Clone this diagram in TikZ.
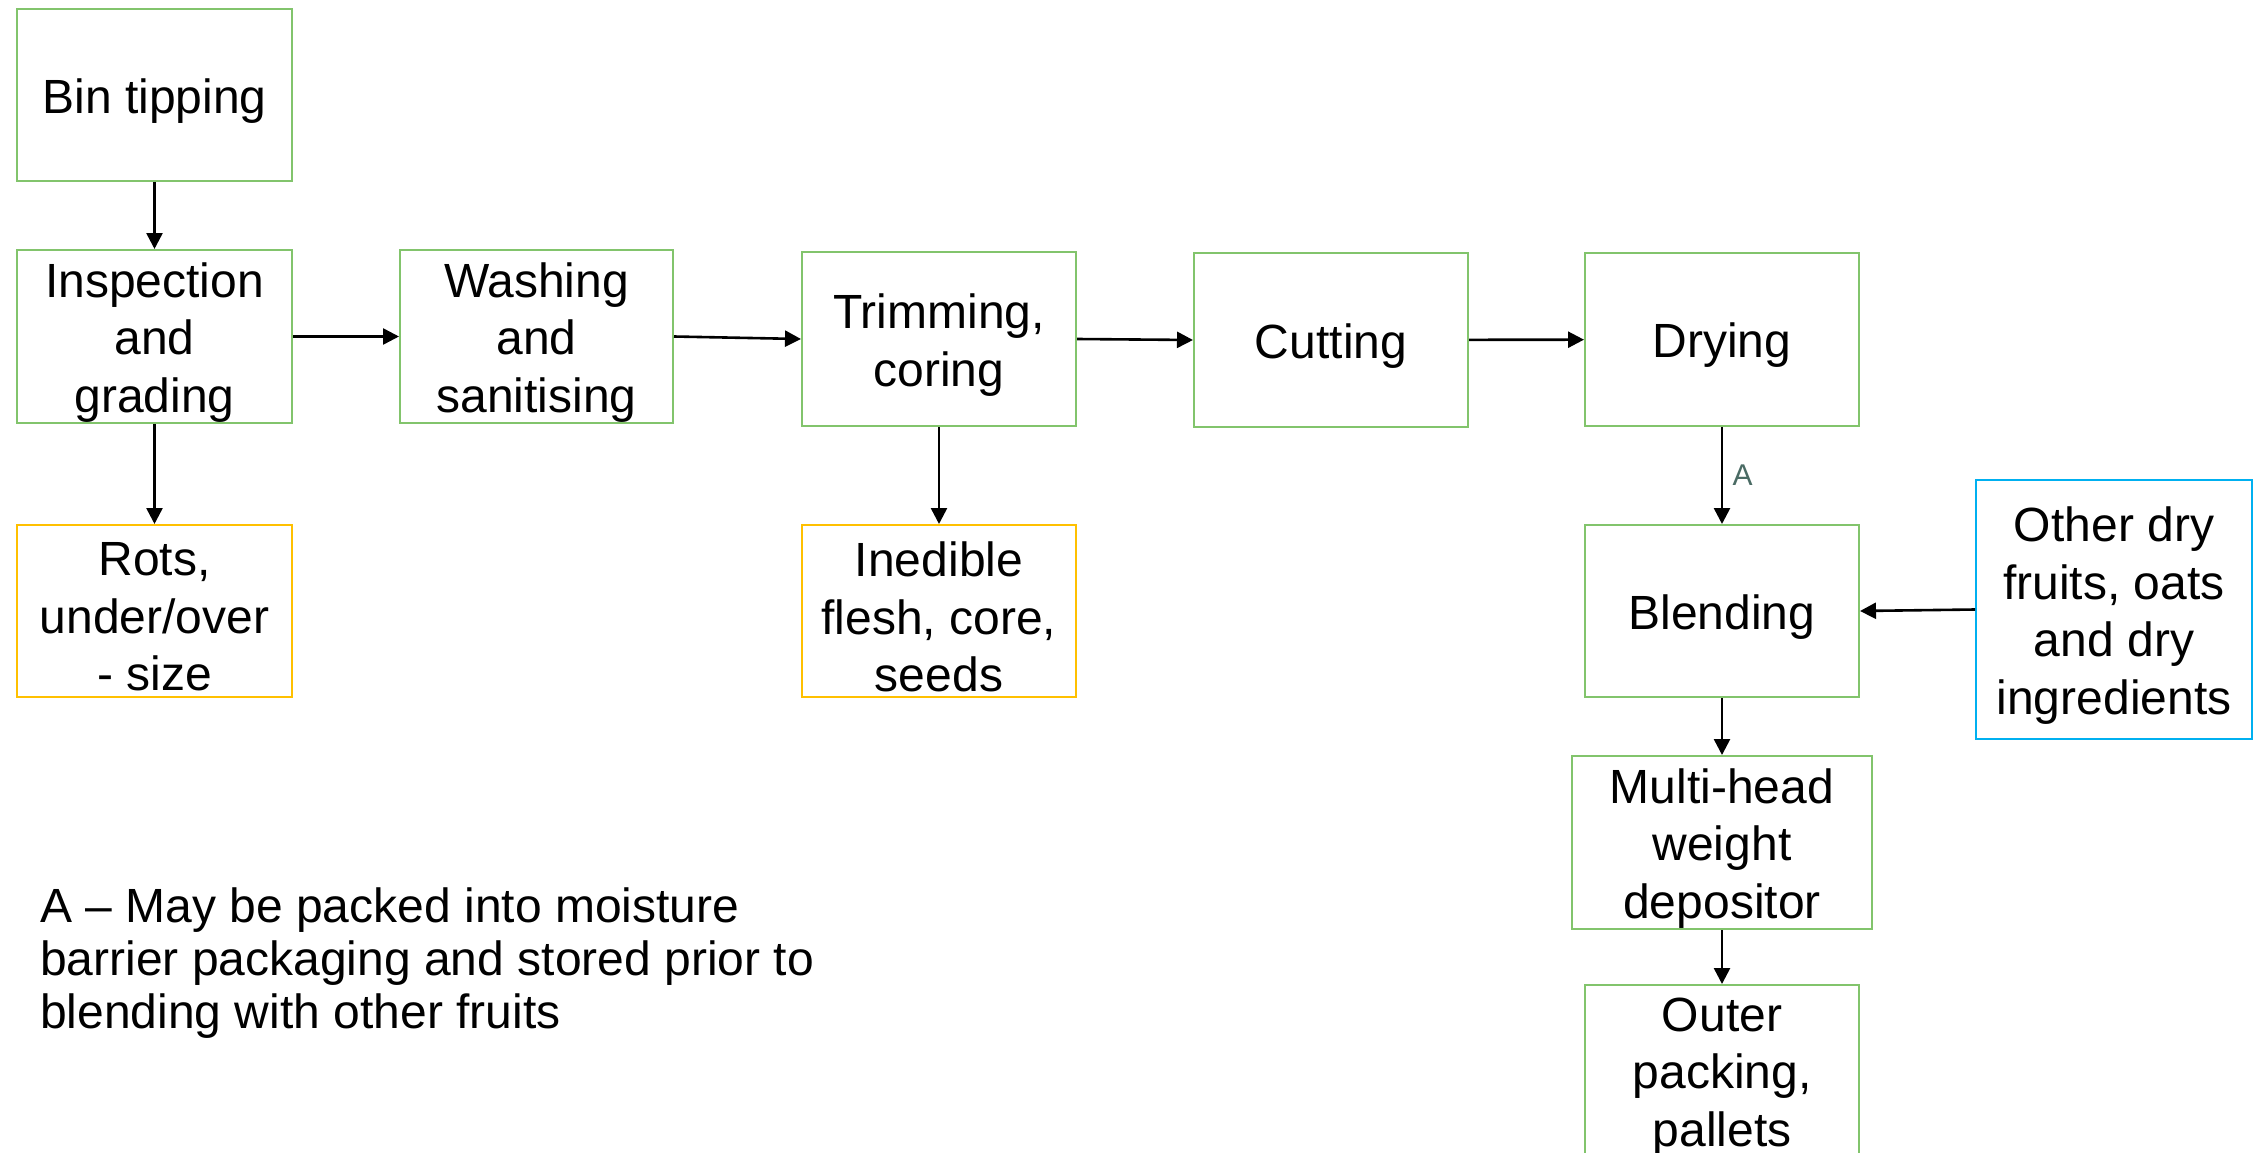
\documentclass[tikz,border=0pt]{standalone}
\usepackage{fontspec}
\setmainfont{Liberation Sans}
\usetikzlibrary{arrows.meta}
\definecolor{boxgreen}{HTML}{82C46C}
\definecolor{boxorange}{HTML}{FFC000}
\definecolor{boxblue}{HTML}{00B0F0}
\definecolor{labelgrey}{HTML}{4A6B64}
\tikzset{
  stagebox/.style={draw=boxgreen, line width=2pt, inner sep=0pt},
  wastebox/.style={stagebox, draw=boxorange},
  inputbox/.style={stagebox, draw=boxblue},
  boxtext/.style={inner sep=0pt, align=center, yshift=-6pt,
    font=\fontsize{48}{57.5}\selectfont, text=black},
  flow/.style={line width=2.6pt, -{Triangle[length=16pt,width=16pt]}},
}
\begin{document}
\begin{tikzpicture}[x=1pt,y=-1pt]
\useasboundingbox (0,0) rectangle (2255,1153);
\clip (0,0) rectangle (2255,1153);
\fill[white] (0,0) rectangle (2255,1153);
\node[stagebox, minimum width=275pt, minimum height=172pt, label={[boxtext]center:Bin tipping}] (bin) at (154.5,95) {};
\node[stagebox, minimum width=275pt, minimum height=173pt, label={[boxtext]center:{Inspection\\and\\grading}}] (insp) at (154.5,336.5) {};
\node[stagebox, minimum width=273pt, minimum height=173pt, label={[boxtext]center:{Washing\\and\\sanitising}}] (wash) at (536.5,336.5) {};
\node[stagebox, minimum width=274pt, minimum height=174pt, label={[boxtext]center:{Trimming,\\coring}}] (trim) at (939,339) {};
\node[stagebox, minimum width=274pt, minimum height=174pt, label={[boxtext]center:Cutting}] (cut) at (1331,340) {};
\node[stagebox, minimum width=274pt, minimum height=173pt, label={[boxtext]center:Drying}] (dry) at (1722,339.5) {};
\node[wastebox, minimum width=275pt, minimum height=172pt, label={[boxtext]center:{Rots,\\under/over\\- size}}] (rots) at (154.5,611) {};
\node[wastebox, minimum width=274pt, minimum height=172pt, label={[boxtext]center:{Inedible\\flesh, core,\\seeds}}] (ined) at (939,611) {};
\node[stagebox, minimum width=274pt, minimum height=172pt, label={[boxtext]center:Blending}] (blend) at (1722,611) {};
\node[inputbox, minimum width=276pt, minimum height=259pt, label={[boxtext]center:{Other dry\\fruits, oats\\and dry\\ingredients}}] (other) at (2114,609.5) {};
\node[stagebox, minimum width=300pt, minimum height=173pt, label={[boxtext]center:{Multi-head\\weight\\depositor}}] (multi) at (1722,842.5) {};
\node[stagebox, minimum width=274pt, minimum height=172pt, label={[boxtext]center:{Outer\\packing,\\pallets}}] (outer) at (1722,1071) {};
\node[inner sep=0pt, anchor=west, align=left, font=\fontsize{48}{53}\selectfont] (note) at (40,963)
  {A – May be packed into moisture\\barrier packaging and stored prior to\\blending with other fruits};
\draw[flow] (bin) -- (insp);
\draw[flow] (insp) -- (wash);
\draw[flow] (wash.east) -- (trim.west);
\draw[flow] (trim.east) -- (cut.west);
\draw[flow] (cut) -- (dry);
\draw[flow] (insp) -- (rots);
\draw[flow] (trim) -- (ined);
\draw[flow] (dry) -- node[right, xshift=6pt, text=labelgrey, font=\fontsize{30}{34}\selectfont] (alabel) {A} (blend);
\draw[flow] (other.west) -- (blend.east);
\draw[flow] (blend) -- (multi);
\draw[flow] (multi) -- (outer);
\end{tikzpicture}
\end{document}
